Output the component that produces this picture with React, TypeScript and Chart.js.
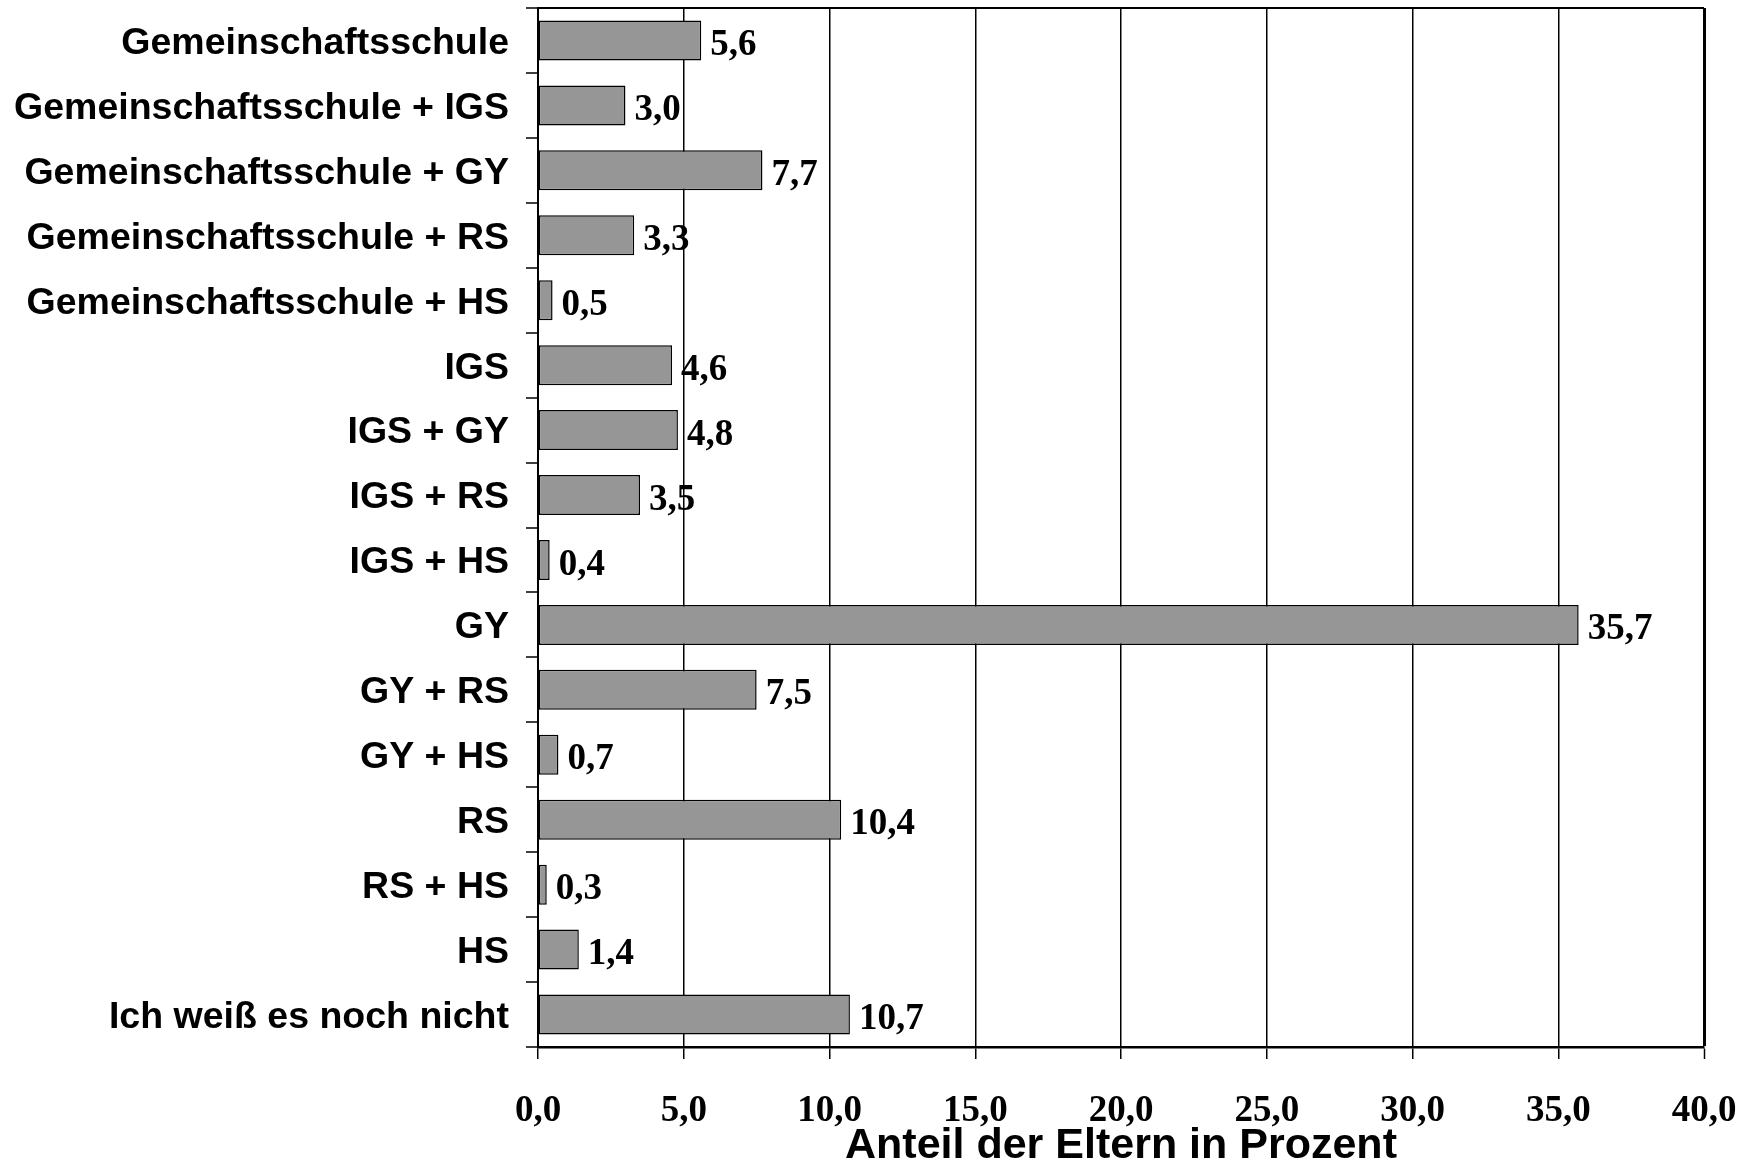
import React, { useEffect, useRef } from "react";
import { Chart, registerables } from "chart.js";

Chart.register(...registerables);

const categories: string[] = [
  "Gemeinschaftsschule",
  "Gemeinschaftsschule + IGS",
  "Gemeinschaftsschule + GY",
  "Gemeinschaftsschule + RS",
  "Gemeinschaftsschule + HS",
  "IGS",
  "IGS + GY",
  "IGS + RS",
  "IGS + HS",
  "GY",
  "GY + RS",
  "GY + HS",
  "RS",
  "RS + HS",
  "HS",
  "Ich weiß es noch nicht",
];

const shares: number[] = [5.6, 3.0, 7.7, 3.3, 0.5, 4.6, 4.8, 3.5, 0.4, 35.7, 7.5, 0.7, 10.4, 0.3, 1.4, 10.7];

const xTicks: number[] = [0, 5, 10, 15, 20, 25, 30, 35, 40];

const axisTitle = "Anteil der Eltern in Prozent";

const fmt = (v: number) => v.toFixed(1).replace(".", ",");

const W = 1753;
const H = 1163;

const valueLabels = {
  id: "valueLabels",
  afterDatasetsDraw(chart: any) {
    const ctx = chart.ctx;
    const meta = chart.getDatasetMeta(0);
    const data = chart.data.datasets[0].data as number[];
    ctx.save();
    ctx.font = "bold 37px 'Liberation Serif', 'Times New Roman', serif";
    ctx.fillStyle = "#000";
    ctx.textAlign = "left";
    ctx.textBaseline = "middle";
    meta.data.forEach((bar: any, i: number) => {
      ctx.fillText(fmt(data[i]), bar.x + 9, bar.y + 5);
    });
    ctx.restore();
  },
};

export default function App() {
  const ref = useRef<HTMLCanvasElement | null>(null);

  useEffect(() => {
    if (!ref.current) return;
    const chart = new Chart(ref.current, {
      type: "bar",
      data: {
        labels: categories,
        datasets: [
          {
            data: shares,
            backgroundColor: "#969696",
            borderColor: "#000",
            borderWidth: 1.5,
            borderSkipped: false,
            categoryPercentage: 1,
            barPercentage: 0.616,
          },
        ],
      },
      options: {
        indexAxis: "y",
        animation: false,
        responsive: false,
        devicePixelRatio: 1,
        layout: { padding: { top: 8, right: 49, left: 0, bottom: 0 } },
        plugins: {
          legend: { display: false },
          tooltip: { enabled: false },
          title: { display: false },
        },
        scales: {
          x: {
            type: "linear",
            min: 0,
            max: 40,
            afterBuildTicks: (scale: any) => {
              scale.ticks = xTicks.map((v) => ({ value: v }));
            },
            afterFit: (scale: any) => {
              scale.height = 116;
              scale.paddingLeft = 0;
              scale.paddingRight = 0;
            },
            grid: {
              display: true,
              drawOnChartArea: true,
              drawTicks: true,
              tickLength: 12,
              color: "#000",
              tickColor: "#000",
              lineWidth: (c: any) => (c.index === xTicks.length - 1 ? 3 : 1.5),
              tickWidth: 1.5,
            },
            border: { display: true, color: "#000", width: 2.5 },
            ticks: {
              padding: 34,
              color: "#000",
              font: { family: "'Liberation Serif', 'Times New Roman', serif", weight: "bold", size: 37, lineHeight: 1 },
              callback: (v: any) => fmt(Number(v)),
              maxRotation: 0,
              autoSkip: false,
            },
            title: {
              display: true,
              text: axisTitle,
              color: "#000",
              font: { family: "'Liberation Sans', Arial, sans-serif", weight: "bold", size: 43, lineHeight: 1 },
              padding: { top: 0, bottom: -5 },
            },
          },
          y: {
            type: "category",
            offset: true,
            afterFit: (scale: any) => {
              scale.width = 538;
              scale.paddingTop = 0;
              scale.paddingBottom = 0;
            },
            grid: {
              display: true,
              drawOnChartArea: true,
              drawTicks: true,
              tickLength: 12,
              offset: true,
              color: (c: any) => (c.index === 0 ? "#000" : "rgba(0,0,0,0)"),
              tickColor: "#000",
              lineWidth: 2,
              tickWidth: 1.5,
            },
            border: { display: true, color: "#000", width: 2 },
            ticks: {
              padding: 17,
              labelOffset: 3,
              color: "#000",
              font: { family: "'Liberation Sans', Arial, sans-serif", weight: "bold", size: 37.5, lineHeight: 1 },
              autoSkip: false,
            },
          },
        },
      },
      plugins: [valueLabels],
    });
    return () => chart.destroy();
  }, []);

  return (
    <div style={{ position: "absolute", left: 0, top: 0, width: W, height: H, background: "#fff" }}>
      <canvas ref={ref} width={W} height={H} style={{ display: "block", width: W, height: H }} />
    </div>
  );
}
